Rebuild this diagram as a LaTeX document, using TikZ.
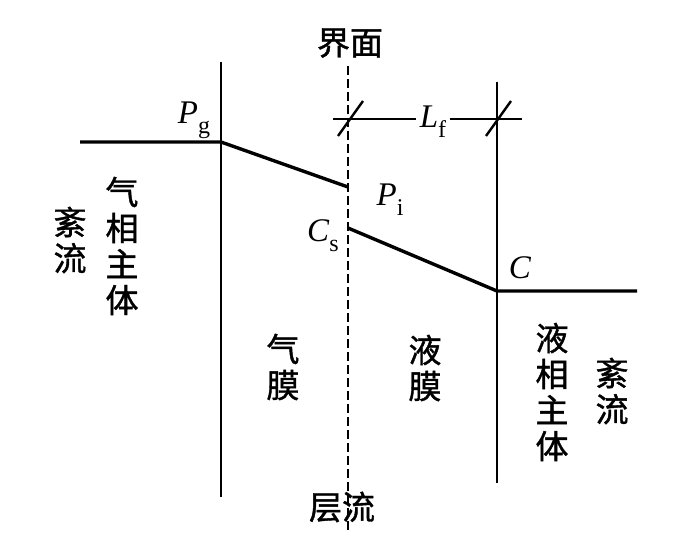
\documentclass[tikz,border=0pt]{standalone}
\usepackage{fontspec}
\setmainfont{Liberation Serif}
\newfontfamily\cjk[FakeBold=1.2]{Noto Sans CJK SC}
\newcommand{\subl}[2]{\textit{#1}\raisebox{-0.3em}{\fontsize{24}{24}\selectfont #2}}
\begin{document}
\begin{tikzpicture}[x=1pt,y=-1pt,
  wall/.style={line width=2.6pt},
  prof/.style={line width=3.4pt},
  iface/.style={line width=2.4pt,dash pattern=on 9pt off 4pt},
  dim/.style={line width=2.4pt},
  zh/.style={font=\cjk\fontsize{33}{36}\selectfont,align=center,inner sep=0pt},
  sym/.style={font=\fontsize{33}{36}\selectfont,inner sep=0pt}]
\useasboundingbox (0,0) rectangle (698,537);
% walls
\coordinate (lwt) at (221,62);  \coordinate (lwb) at (221,497);
\coordinate (ift) at (348,66);  \coordinate (ifb) at (348,532);
\coordinate (rwt) at (497,82);  \coordinate (rwb) at (497,483);
\draw[wall] (lwt) -- (lwb);
\draw[wall] (rwt) -- (rwb);
\draw[iface] (ift) -- (ifb);
% concentration profile
\coordinate (g0) at (80,142); \coordinate (g1) at (221,142); \coordinate (g2) at (348,187);
\coordinate (l0) at (348,228); \coordinate (l1) at (497,291); \coordinate (l2) at (637,291);
\draw[prof,line join=round] (g0) -- (g1) -- (g2);
\draw[prof,line join=round] (l0) -- (l1) -- (l2);
% film thickness dimension
\node[sym] (Lf) at (433,122) {\subl{L}{f}};
\coordinate (d0) at (333,119); \coordinate (d1) at (522,119);
\draw[dim] (d0) -- ([xshift=-4pt]d0 -| Lf.west);
\draw[dim] ([xshift=4pt]d1 -| Lf.east) -- (d1);
\coordinate (t1a) at (338,136); \coordinate (t1b) at (363,101);
\coordinate (t2a) at (486,136); \coordinate (t2b) at (511,101);
\draw[dim] (t1a) -- (t1b);
\draw[dim] (t2a) -- (t2b);
% labels
\node[sym] (Pg) at (194,120) {\subl{P}{g}};
\node[sym] (Pi) at (390,200) {\subl{P}{i}};
\node[sym] (Cs) at (323,236) {\subl{C}{s}};
\node[sym] (C) at (520,268) {\textit{C}};
\node[zh] (top) at (350,43) {界面};
\node[zh] (bot) at (342,507) {层流};
\node[zh] (tl) at (70,240) {紊\\流};
\node[zh] (gb) at (122,246) {气\\相\\主\\体};
\node[zh] (gm) at (283,367) {气\\膜};
\node[zh] (lm) at (425,368) {液\\膜};
\node[zh] (lb) at (552,392) {液\\相\\主\\体};
\node[zh] (tr) at (612,391) {紊\\流};
\end{tikzpicture}
\end{document}
